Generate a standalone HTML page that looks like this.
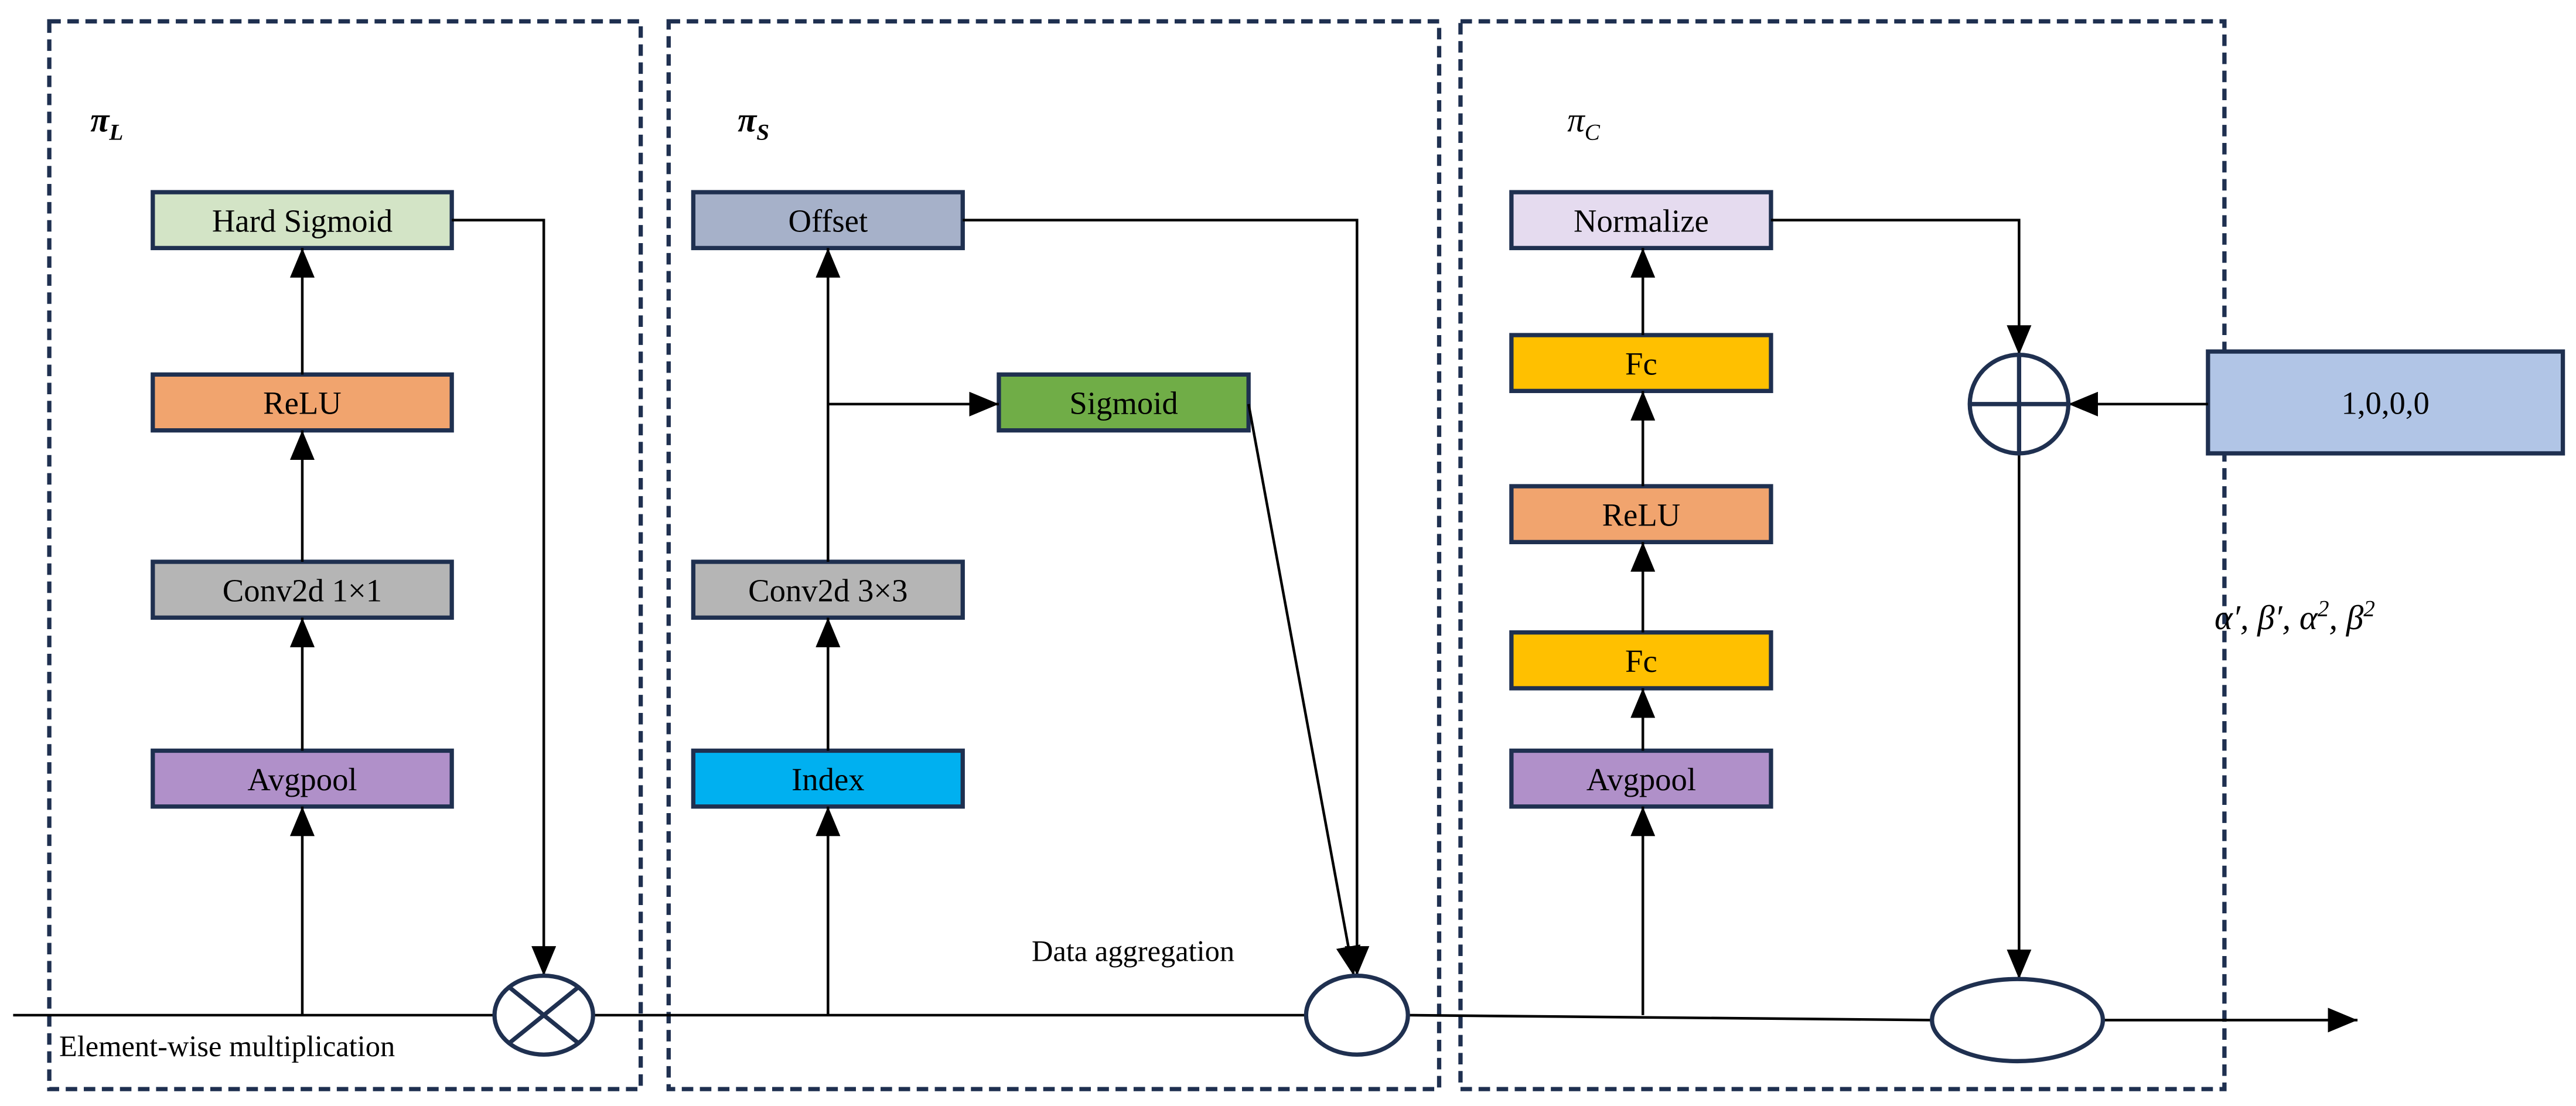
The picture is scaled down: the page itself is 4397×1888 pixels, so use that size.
<!DOCTYPE html>
<html><head><meta charset="utf-8"><style>html,body{margin:0;padding:0;background:#fff}svg{display:block}</style></head><body>
<svg width="4397" height="1888" viewBox="0 0 1568 673.3" preserveAspectRatio="none" xmlns="http://www.w3.org/2000/svg" font-family="Liberation Serif, serif">
<defs>
<marker id="b" viewBox="0 0 10 10" markerWidth="18" markerHeight="15" refX="10" refY="5" orient="auto" markerUnits="userSpaceOnUse" preserveAspectRatio="none"><path d="M0,0 L10,5 L0,10 z" fill="#000"/></marker></defs>
<g fill="none" stroke="#1f3050" stroke-width="2.6" stroke-dasharray="7,4">
<rect x="30" y="13" width="360" height="650"/>
<rect x="407" y="13" width="469" height="650"/>
<rect x="889" y="13" width="465" height="650"/>
</g>
<g font-style="italic" font-weight="bold" font-size="21" fill="#000">
<text x="55" y="80">π<tspan font-size="14" dy="5">L</tspan></text>
<text x="449" y="80">π<tspan font-size="14" dy="5">S</tspan></text>
<text x="954" y="80" font-weight="normal">π<tspan font-size="14" dy="5">C</tspan></text>
</g>
<g stroke="#1f3050" stroke-width="2.6">
<rect x="93" y="117" width="182" height="34" fill="#d3e4c6"/>
<rect x="93" y="228" width="182" height="34" fill="#f1a46e"/>
<rect x="93" y="342" width="182" height="34" fill="#b5b5b5"/>
<rect x="93" y="457" width="182" height="34" fill="#b090c9"/>
<rect x="422" y="117" width="164" height="34" fill="#a6b1c9"/>
<rect x="608" y="228" width="152" height="34" fill="#70ad47"/>
<rect x="422" y="342" width="164" height="34" fill="#b5b5b5"/>
<rect x="422" y="457" width="164" height="34" fill="#00b0f0"/>
<rect x="920" y="117" width="158" height="34" fill="#e5dbef"/>
<rect x="920" y="204" width="158" height="34" fill="#ffc000"/>
<rect x="920" y="296" width="158" height="34" fill="#f1a46e"/>
<rect x="920" y="385" width="158" height="34" fill="#ffc000"/>
<rect x="920" y="457" width="158" height="34" fill="#b090c9"/>
<rect x="1344" y="214" width="216" height="62" fill="#b1c5e6"/>
</g>
<g font-size="19.5" fill="#000" text-anchor="middle">
<text x="184" y="141">Hard Sigmoid</text>
<text x="184" y="252">ReLU</text>
<text x="184" y="366">Conv2d 1×1</text>
<text x="184" y="481">Avgpool</text>
<text x="504" y="141">Offset</text>
<text x="684" y="252">Sigmoid</text>
<text x="504" y="366">Conv2d 3×3</text>
<text x="504" y="481">Index</text>
<text x="999" y="141">Normalize</text>
<text x="999" y="228">Fc</text>
<text x="999" y="320">ReLU</text>
<text x="999" y="409">Fc</text>
<text x="999" y="481">Avgpool</text>
<text x="1452" y="252">1,0,0,0</text>
</g>
<g font-size="18" fill="#000">
<text x="36" y="643">Element-wise multiplication</text>
<text x="628" y="585">Data aggregation</text>
<text x="1348" y="383" font-size="21" font-style="italic">α′, β′, α<tspan font-size="14" dy="-8">2</tspan><tspan dy="8">, β</tspan><tspan font-size="14" dy="-8">2</tspan></text>
</g>
<g stroke="#000" stroke-width="1.6" fill="none">
<path d="M8,618 L301,618"/><path d="M361,618 L795,618"/><path d="M857,618 L1176,621"/>
<path d="M1280,621 L1435,621" marker-end="url(#b)"/>
<path d="M184,618 L184,491" marker-end="url(#b)"/>
<path d="M184,342 L184,262" marker-end="url(#b)"/>
<path d="M184,228 L184,151" marker-end="url(#b)"/>
<path d="M184,457 L184,376" marker-end="url(#b)"/>
<path d="M275,134 L331,134 L331,594" marker-end="url(#b)"/>
<path d="M504,618 L504,491" marker-end="url(#b)"/>
<path d="M504,457 L504,376" marker-end="url(#b)"/>
<path d="M504,342 L504,151" marker-end="url(#b)"/>
<path d="M504,246 L608,246" marker-end="url(#b)"/>
<path d="M586,134 L826,134 L826,594" marker-end="url(#b)"/>
<path d="M760,246 L824,594" marker-end="url(#b)"/>
<path d="M1000,618 L1000,491" marker-end="url(#b)"/>
<path d="M1000,457 L1000,419" marker-end="url(#b)"/>
<path d="M1000,385 L1000,330" marker-end="url(#b)"/>
<path d="M1000,296 L1000,238" marker-end="url(#b)"/>
<path d="M1000,204 L1000,151" marker-end="url(#b)"/>
<path d="M1078,134 L1229,134 L1229,216" marker-end="url(#b)"/>
<path d="M1229,276 L1229,596" marker-end="url(#b)"/>
<path d="M1344,246 L1259,246" marker-end="url(#b)"/>
</g>
<g stroke="#1f3050" stroke-width="2.6" fill="#fff">
<ellipse cx="331" cy="618" rx="30" ry="24"/>
<ellipse cx="826" cy="618" rx="31" ry="24"/>
<ellipse cx="1228" cy="621" rx="52" ry="25"/>
<ellipse cx="1229" cy="246" rx="30" ry="30"/>
</g>
<g stroke="#1f3050" stroke-width="2.6">
<path d="M310,601 L352,635 M352,601 L310,635"/>
<path d="M1199,246 L1259,246 M1229,216 L1229,276"/>
</g>
</svg>
</body></html>
